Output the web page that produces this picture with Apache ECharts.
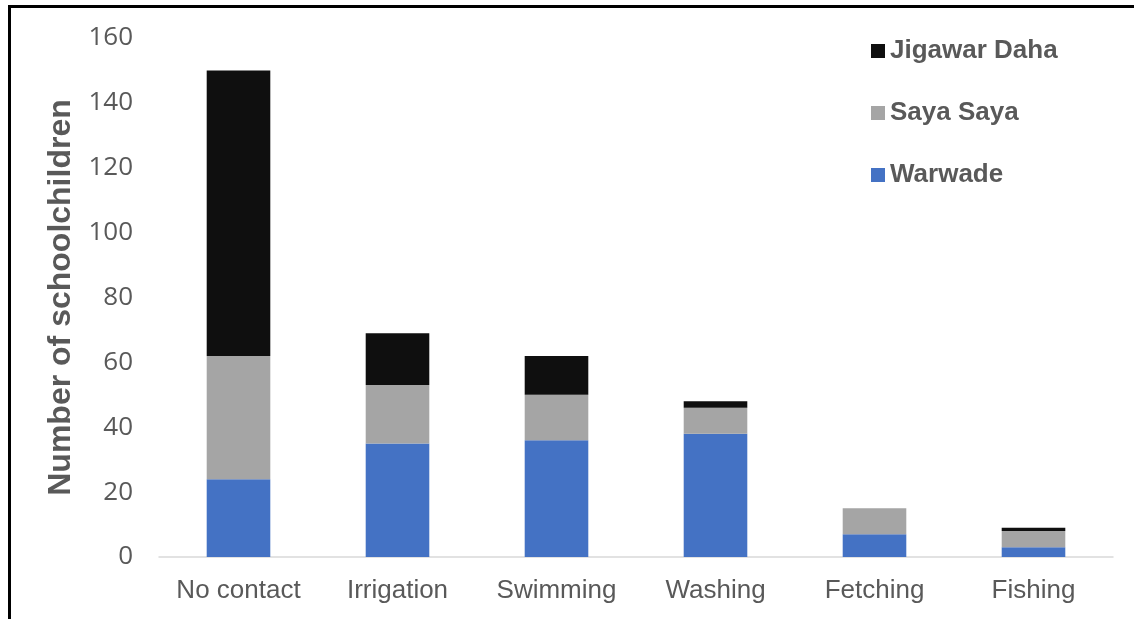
<!DOCTYPE html>
<html>
<head>
<meta charset="utf-8">
<script src="https://cdn.jsdelivr.net/npm/echarts@6/dist/echarts.min.js"></script>
<style>
html,body{margin:0;padding:0;background:#fff;}
#chart{width:1134px;height:619px;position:relative;}
.frameTop{position:absolute;left:8px;top:5px;width:1126px;height:3px;background:#000;}
.frameLeft{position:absolute;left:8px;top:5px;width:3px;height:614px;background:#000;}
</style>
</head>
<body>
<div style="position:relative;width:1134px;height:619px;">
<div id="chart"></div>
<div class="frameTop"></div>
<div class="frameLeft"></div>
</div>
<script>
const categories = ['No contact', 'Irrigation', 'Swimming', 'Washing', 'Fetching', 'Fishing'];
const warwade = [24, 35, 36, 38, 7, 3];
const sayaSaya = [38, 18, 14, 8, 8, 5];
const jigawarDaha = [88, 16, 12, 2, 0, 1];
const seriesNames = ['Warwade', 'Saya Saya', 'Jigawar Daha'];
const yTicks = [0, 20, 40, 60, 80, 100, 120, 140, 160];

const colors = ['#4472C4', '#A5A5A5', '#0F0F0F'];
const chart = echarts.init(document.getElementById('chart'), null, {renderer: 'canvas'});
const dataSets = [warwade, sayaSaya, jigawarDaha];
chart.setOption({
  animation: false,
  backgroundColor: '#ffffff',
  grid: {left: 159, right: 21, top: 38, bottom: 62, containLabel: false},
  legend: {
    data: ['Jigawar Daha', 'Saya Saya', 'Warwade'],
    orient: 'vertical',
    left: 866,
    top: 33,
    itemWidth: 14,
    itemHeight: 14,
    itemGap: 36,
    icon: 'rect',
    textStyle: {fontFamily: 'Liberation Sans', fontWeight: 'bold', fontSize: 26, color: '#595959'}
  },
  xAxis: {
    type: 'category',
    data: categories,
    axisLine: {lineStyle: {color: '#D9D9D9', width: 1.5}},
    axisTick: {show: false},
    axisLabel: {fontFamily: 'Liberation Sans', fontSize: 26, color: '#595959', margin: 21, interval: 0}
  },
  yAxis: {
    type: 'value',
    min: yTicks[0],
    max: yTicks[yTicks.length - 1],
    interval: 20,
    name: 'Number of schoolchildren',
    nameLocation: 'middle',
    nameGap: 81,
    nameTextStyle: {fontFamily: 'Liberation Sans', fontWeight: 'bold', fontSize: 32, color: '#595959'},
    axisLine: {show: false},
    axisTick: {show: false},
    splitLine: {show: false},
    axisLabel: {fontFamily: 'Open Sans', fontSize: 26, color: '#595959', margin: 26}
  },
  series: seriesNames.map((n, i) => ({
    name: n,
    type: 'bar',
    stack: 'total',
    barWidth: '40%',
    itemStyle: {color: colors[i]},
    data: dataSets[i]
  }))
});
</script>
</body>
</html>
